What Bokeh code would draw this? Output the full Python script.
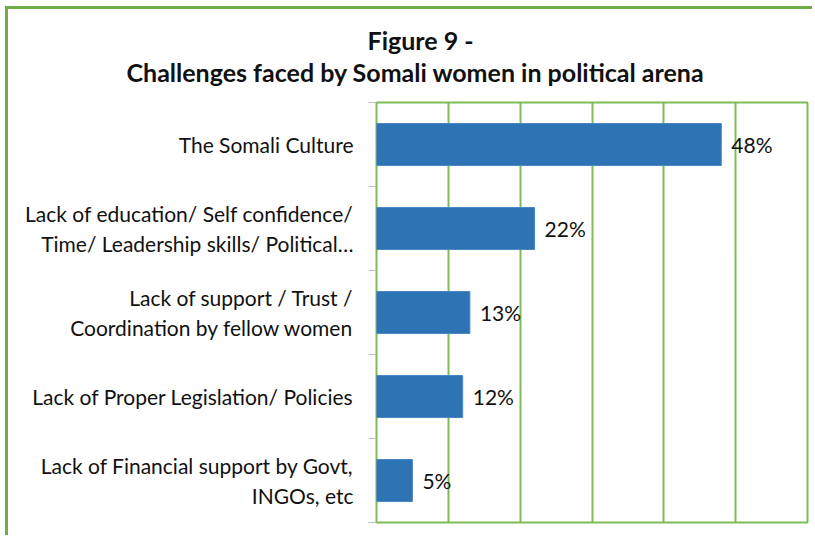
from bokeh.plotting import figure
from bokeh.models import (Range1d, LinearAxis, FixedTicker, Title, ColumnDataSource)
from bokeh.core.properties import value
from bokeh.embed import file_html
from bokeh.resources import INLINE

# ---- data ----
categories = [
    "The Somali Culture",
    "Lack of education/ Self confidence/\nTime/ Leadership skills/ Political…",
    "Lack of support / Trust /\nCoordination by fellow women",
    "Lack of Proper Legislation/ Policies",
    "Lack of Financial support by Govt,\nINGOs, etc",
]
values = [48, 22, 13, 12, 5]
value_labels = ["48%", "22%", "13%", "12%", "5%"]
x_ticks = [0, 10, 20, 30, 40, 50, 60]
title_lines = ["Figure 9 -", "Challenges faced by Somali women in political arena"]

FONT = "Lato"
GRID_GREEN = "#7DBB57"
BORDER_GREEN = "#6FAE47"
BAR_BLUE = "#2E74B5"

n = len(categories)
# category slot centres (first category on top)
ypos = [n - 0.5 - i for i in range(n)]
bounds = list(range(n + 1))
source = ColumnDataSource(dict(y=ypos, cat=categories, val=values, lab=value_labels))

p = figure(width=807, height=529,
           y_range=Range1d(0, n),
           x_range=Range1d(x_ticks[0], x_ticks[-1]),
           x_axis_location=None, y_axis_location=None,
           output_backend="svg", toolbar_location=None,
           min_border_left=368, min_border_right=8,
           min_border_top=0, min_border_bottom=16)
p.title.visible = False
p.margin = (6, 0, 0, 5)
p.styles = {"border-top": f"3px solid {BORDER_GREEN}",
            "border-left": f"3px solid {BORDER_GREEN}"}

p.outline_line_color = GRID_GREEN
p.outline_line_width = 2
p.xgrid.ticker = FixedTicker(ticks=x_ticks)
p.xgrid.grid_line_color = GRID_GREEN
p.xgrid.grid_line_width = 2
p.ygrid.visible = False

p.hbar(y="y", right="val", height=0.5, left=0, source=source,
       fill_color=BAR_BLUE, line_color="#4A88C4", line_width=1)

p.text(x="val", y="y", text="lab", source=source, x_offset=10,
       text_baseline="middle", text_align="left",
       text_font=value(FONT), text_font_size="21px", text_color="#111111")

cat_axis = LinearAxis(ticker=FixedTicker(ticks=ypos, minor_ticks=bounds),
                      major_label_overrides={y: c for y, c in zip(ypos, categories)},
                      major_tick_line_color=None,
                      major_tick_in=0, major_tick_out=0,
                      minor_tick_in=0, minor_tick_out=8,
                      minor_tick_line_color="#BFBFBF", minor_tick_line_width=1,
                      axis_line_color=None,
                      major_label_standoff=15,
                      major_label_text_font=FONT,
                      major_label_text_font_size="21px",
                      major_label_text_color="#111111",
                      major_label_text_line_height=1.22)
p.add_layout(cat_axis, "left")

# second title line first (closest to the frame), then the first line above it
p.add_layout(Title(text=title_lines[1], align="left", offset=-250, standoff=0,
                   padding=dict(top=0, right=0, bottom=16, left=0),
                   text_font=FONT, text_font_style="bold", text_font_size="25px",
                   text_color="#111111"), "above")
p.add_layout(Title(text=title_lines[0], align="left", offset=-9, standoff=0,
                   padding=dict(top=13, right=0, bottom=0, left=0),
                   text_font=FONT, text_font_style="bold", text_font_size="25px",
                   text_color="#111111"), "above")

open("out.html", "w").write(file_html(p, INLINE))
